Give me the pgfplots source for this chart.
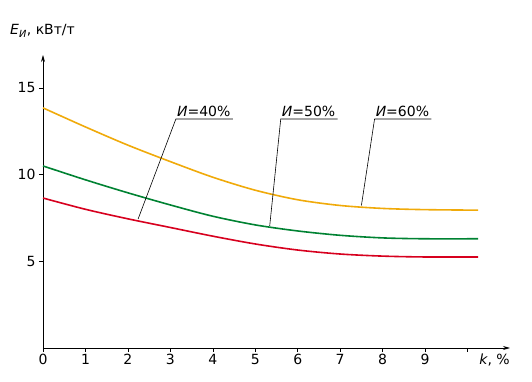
\documentclass[border=0pt]{standalone}
\usepackage{pgfplots}
\pgfplotsset{compat=1.18}
\usetikzlibrary{arrows.meta}
\usepackage{fontspec}
\setmainfont{DejaVu Sans}
\definecolor{cy}{RGB}{240,170,10}
\definecolor{cg}{RGB}{0,130,50}
\definecolor{cr}{RGB}{215,0,30}
\begin{document}
\begin{tikzpicture}[x=1pt,y=1pt]
\begin{axis}[
  scale only axis, width=467pt, height=293pt,
  xmin=0, xmax=11, ymin=0, ymax=16.9,
  axis lines=left,
  axis line style={line width=0.8pt,-{Stealth[length=7pt,width=4pt]}},
  xtick={0,1,...,10}, xticklabels={0,1,2,3,4,5,6,7,8,9,},
  ytick={5,10,15},
  tick align=outside, major tick length=4pt,
  tick style={black,line width=0.6pt},
  tick label style={font=\fontsize{14}{16}\selectfont},
  xticklabel style={yshift=1pt},
  /pgf/number format/assume math mode=true,
  clip=false,
]
\addplot[cy, line width=1.6pt, smooth] coordinates {(0,13.85) (1,12.75) (2,11.7) (3,10.75) (4,9.85) (5,9.1) (6,8.55) (7,8.22) (8,8.05) (9,7.98) (10.25,7.95)};
\addplot[cg, line width=1.6pt, smooth] coordinates {(0,10.5) (1,9.7) (2,8.95) (3,8.25) (4,7.6) (5,7.1) (6,6.75) (7,6.5) (8,6.35) (9,6.3) (10.25,6.3)};
\addplot[cr, line width=1.6pt, smooth] coordinates {(0,8.65) (1,8.0) (2,7.45) (3,6.95) (4,6.45) (5,6.0) (6,5.65) (7,5.42) (8,5.3) (9,5.25) (10.25,5.25)};
\draw[line width=0.6pt] (axis cs:2.24,7.44) -- (axis cs:3.13,13.21) -- (axis cs:4.47,13.21);
\draw[line width=0.6pt] (axis cs:5.34,7.04) -- (axis cs:5.6,13.21) -- (axis cs:6.94,13.21);
\draw[line width=0.6pt] (axis cs:7.5,8.22) -- (axis cs:7.81,13.21) -- (axis cs:9.15,13.21);
\node[anchor=south west, inner sep=1pt, font=\fontsize{14}{16}\selectfont] at (axis cs:3.13,13.25) {\textit{И}=40\%};
\node[anchor=south west, inner sep=1pt, font=\fontsize{14}{16}\selectfont] at (axis cs:5.6,13.25) {\textit{И}=50\%};
\node[anchor=south west, inner sep=1pt, font=\fontsize{14}{16}\selectfont] at (axis cs:7.81,13.25) {\textit{И}=60\%};
\node[anchor=north east, inner sep=0pt, font=\fontsize{14}{16}\selectfont] at (axis cs:11.0,-0.3) {\textit{k}, \%};
\coordinate (O) at (axis cs:0,0);
\end{axis}
\node[anchor=base west, inner sep=0pt, font=\fontsize{14}{16}\selectfont] at ([xshift=-33pt,yshift=313pt]O) {\textit{E}\textsubscript{\textit{И}}, кВт/т};
\path ([xshift=-43pt,yshift=-34pt]O) rectangle ([xshift=489pt,yshift=348pt]O);
\end{tikzpicture}
\end{document}
